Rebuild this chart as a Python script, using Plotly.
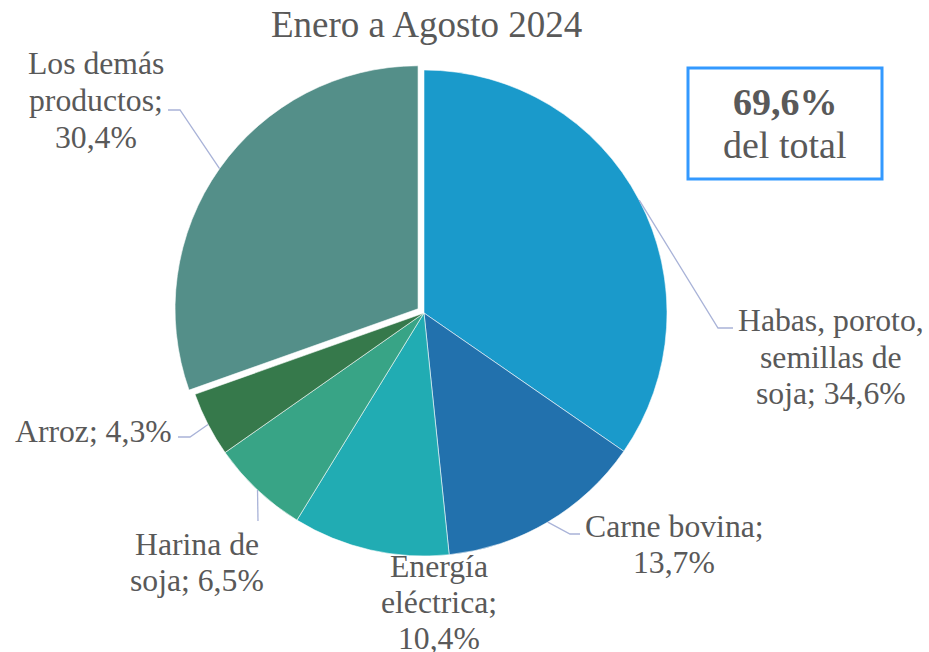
import math
import plotly.graph_objects as go

# ---- data ----
categories = ["Habas, poroto, semillas de soja", "Carne bovina", "Energía eléctrica",
              "Harina de soja", "Arroz", "Los demás productos"]
shares = [34.6, 13.7, 10.4, 6.5, 4.3, 30.4]
label_lines = [
    ["Habas, poroto,", "semillas de", "soja; 34,6%"],
    ["Carne bovina;", "13,7%"],
    ["Energía", "eléctrica;", "10,4%"],
    ["Harina de", "soja; 6,5%"],
    ["Arroz; 4,3%"],
    ["Los demás", "productos;", "30,4%"],
]
title_text = "Enero a Agosto 2024"
box_value = "69,6%"
box_caption = "del total"

# ---- style ----
W, H = 929, 652
colors = ["#1A9ACB", "#2271AD", "#21ACB3", "#38A486", "#36794B", "#548F89"]
pulls = [0, 0, 0, 0, 0, 0.03]
TXT = "#595959"
LEAD = "#A9B3D8"
FONT = "'Liberation Serif', 'Times New Roman', Times, serif"

# pie geometry (pixels)
CX, CY, R = 424, 313, 243
half = R * (1 + max(pulls))

def px(x):
    return x / W

def py(y):
    return 1 - y / H

fig = go.Figure(go.Pie(
    labels=categories, values=shares, sort=False, direction="clockwise", rotation=0,
    marker=dict(colors=colors, line=dict(color="rgba(255,255,255,0.7)", width=0.8)),
    pull=pulls, textinfo="none", hoverinfo="skip", showlegend=False,
    domain=dict(x=[px(CX - half), px(CX + half)], y=[py(CY + half), py(CY - half)]),
))

# label placements (pixel centres of first line) and leader routing
label_pos = [(831, 321), (674, 526), (439, 566), (197, 544), (93, 431), (96, 64)]
line_gaps = [36.5, 36.5, 36, 36, 36, 36.5]
# leader: (elbow, end) in px, or None
leaders = [((718, 328), (733, 328)), ((570, 534), (580, 534)), None,
           (None, (258, 521)), ((190, 437), (178, 437)), ((180, 110), (168, 110))]

annotations = []
shapes = []
total = sum(shares)
cum = 0.0
for i, v in enumerate(shares):
    mid = (cum + v / 2) / total * 2 * math.pi
    cum += v
    rr = R * (1 + pulls[i])
    sx = CX + rr * math.sin(mid)
    sy = CY - rr * math.cos(mid)
    lx, ly = label_pos[i]
    for k, t in enumerate(label_lines[i]):
        yy = ly + k * line_gaps[i]
        ann = dict(x=px(lx), y=py(yy), xref="paper", yref="paper",
                   text=t, showarrow=False, xanchor="center", yanchor="middle",
                   font=dict(family=FONT, size=31.7, color=TXT))
        if yy + 21 > H:  # keep the text box inside the page near the bottom edge
            ann["height"] = 2 * (H - yy) - 1
        annotations.append(ann)
    ld = leaders[i]
    if ld is not None:
        elbow, end = ld
        pts = [(sx, sy)] + ([elbow] if elbow else []) + [end]
        path = "M " + " L ".join(f"{px(a)},{py(b)}" for a, b in pts)
        shapes.append(dict(type="path", xref="paper", yref="paper", path=path,
                           line=dict(color=LEAD, width=1.3)))

# title
annotations.append(dict(x=px(426), y=py(24), xref="paper", yref="paper", text=title_text,
                        showarrow=False, xanchor="center", yanchor="middle",
                        font=dict(family=FONT, size=37, color=TXT)))
# highlight box
shapes.append(dict(type="rect", xref="paper", yref="paper", x0=px(688), x1=px(882),
                   y0=py(179), y1=py(68), line=dict(color="#3399FF", width=3),
                   fillcolor="rgba(0,0,0,0)"))
annotations.append(dict(x=px(785), y=py(102), xref="paper", yref="paper",
                        text=f"<b>{box_value}</b>", showarrow=False, xanchor="center",
                        yanchor="middle", font=dict(family=FONT, size=38, color=TXT)))
annotations.append(dict(x=px(784), y=py(145), xref="paper", yref="paper", text=box_caption,
                        showarrow=False, xanchor="center", yanchor="middle",
                        font=dict(family=FONT, size=38, color=TXT)))

fig.update_layout(width=W, height=H, margin=dict(l=0, r=0, t=0, b=0),
                  paper_bgcolor="white", plot_bgcolor="white",
                  font=dict(family=FONT, color=TXT),
                  annotations=annotations, shapes=shapes)
fig.write_html("out.html", config={"displayModeBar": False},
               post_script="document.body.style.margin='0';document.body.style.overflow='hidden';")
